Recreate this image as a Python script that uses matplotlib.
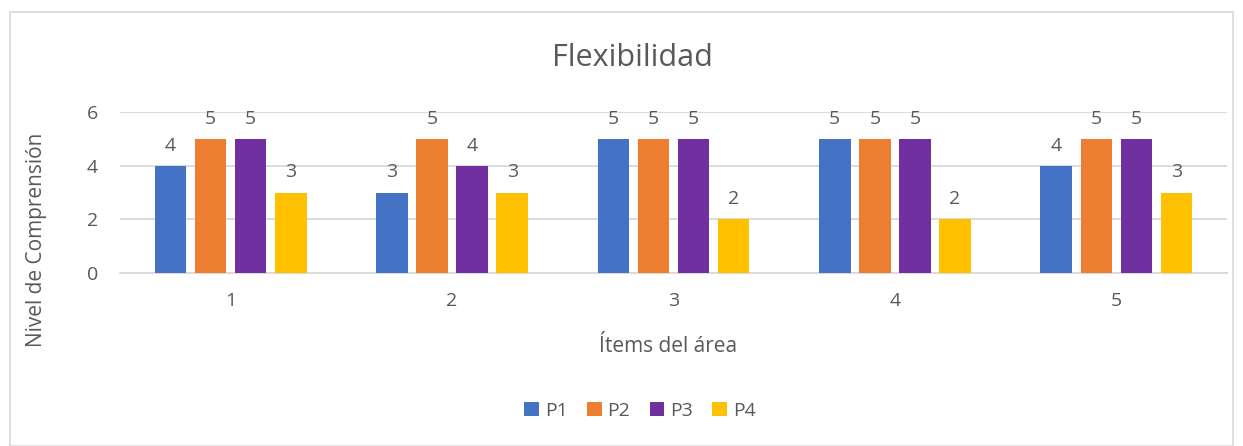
import matplotlib
matplotlib.use("Agg")
import matplotlib.pyplot as plt
from matplotlib.patches import Rectangle
import numpy as np

categories = ["1", "2", "3", "4", "5"]
series_names = ["P1", "P2", "P3", "P4"]
p1 = [4, 3, 5, 5, 4]
p2 = [5, 5, 5, 5, 5]
p3 = [5, 4, 5, 5, 5]
p4 = [3, 3, 2, 2, 3]
colors = ["#4472C4", "#ED7D31", "#7030A0", "#FFC000"]

plt.rcParams['font.family'] = ['Open Sans', 'DejaVu Sans']
txt = "#595959"
grid = "#D9D9D9"
W, H = 1243, 446

fig = plt.figure(figsize=(W/100, H/100), dpi=100)
ax = fig.add_axes([120/W, 1-273/H, (1227-120)/W, (273-112)/H])

x = np.arange(len(categories))
w = 0.142
step = 0.181
for i, (vals, name) in enumerate(zip([p1, p2, p3, p4], series_names)):
    pos = x + (i - 1.5) * step
    bars = ax.bar(pos, vals, width=w, color=colors[i], label=name, zorder=3)
    for b, v in zip(bars, vals):
        ax.annotate(str(v), (b.get_x() + b.get_width()/2, v), xytext=(0, 8),
                    textcoords="offset points", ha="center", va="bottom",
                    fontsize=14, color=txt)

ax.set_xlim(-0.5, len(categories) - 0.5)
ax.set_ylim(0, 6)
ax.set_yticks([0, 2, 4, 6])
ax.set_xticks(x)
ax.set_xticklabels(categories)
ax.tick_params(axis="both", length=0, labelsize=14, labelcolor=txt)
ax.tick_params(axis="x", pad=14)
ax.tick_params(axis="y", pad=16)
ax.grid(axis="y", color=grid, linewidth=1.3, zorder=0)
for s in ["top", "right", "left"]:
    ax.spines[s].set_visible(False)
ax.spines["bottom"].set_color(grid)
ax.spines["bottom"].set_linewidth(1.3)

fig.text(632/W, 1-58/H, "Flexibilidad", fontsize=22, color=txt,
         ha="center", va="center")
fig.text(668/W, 1-347/H, "Ítems del área", fontsize=15, color=txt,
         ha="center", va="center")
fig.text(37/W, 1-(120+360)/2/H, "Nivel de Comprensión", fontsize=15, color=txt,
         ha="center", va="center", rotation=90)

leg = fig.legend(loc="center", bbox_to_anchor=(640/W, 1-411/H), ncol=4,
                 frameon=False, fontsize=14, handlelength=0.75, handleheight=0.75,
                 handletextpad=0.3, columnspacing=1.0, labelcolor=txt)

fig.patches.append(Rectangle((10/W, 0), (1233-10)/W, 1-12/H,
                             transform=fig.transFigure, fill=False,
                             edgecolor=grid, linewidth=1.2))

fig.savefig("out.png", dpi=100)
